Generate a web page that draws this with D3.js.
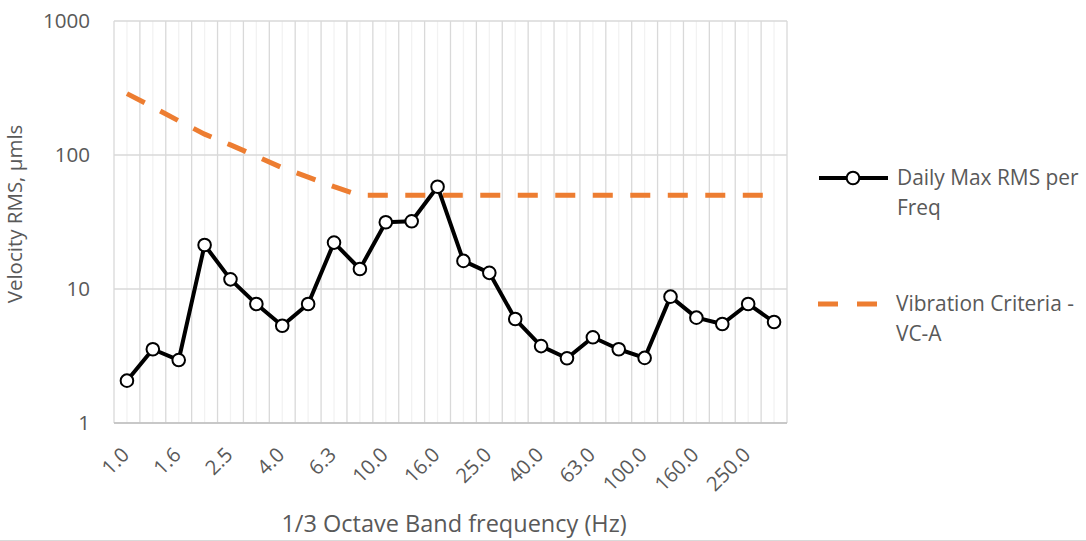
<!DOCTYPE html>
<html>
<head>
<meta charset="utf-8">
<script src="https://cdn.jsdelivr.net/npm/d3@7"></script>
<style>
  html, body { margin: 0; padding: 0; background: #fff; }
  svg { display: block; }
  text { font-family: "Open Sans", "Noto Sans", sans-serif; fill: #595959; }
</style>
</head>
<body>
<svg id="chart" width="1086" height="541"></svg>
<script>
const categories = ["1.0","1.25","1.6","2.0","2.5","3.15","4.0","5.0","6.3","8.0","10.0","12.5","16.0","20.0","25.0","31.5","40.0","50.0","63.0","80.0","100.0","125.0","160.0","200.0","250.0","315.0"];
const dailyMax = [2.07,3.55,2.95,21.3,11.8,7.73,5.32,7.73,22.2,14.1,31.5,32,58,16.2,13.2,5.97,3.75,3.04,4.36,3.55,3.06,8.77,6.11,5.48,7.73,5.67];
const vcA = [287,228,180,143,119,98,80.3,68.4,58.1,50,50,50,50,50,50,50,50,50,50,50,50,50,50,50,50,50];
const yTicks = [1,10,100,1000];
const seriesNames = ["Daily Max RMS per Freq", "Vibration Criteria - VC-A"];
const xTitle = "1/3 Octave Band frequency (Hz)";
const yTitle = "Velocity RMS, µmls";

const svg = d3.select("#chart");
const L = 114, R = 787, T = 21, B = 423;

const x = d3.scaleBand().domain(categories).range([L, R]).paddingInner(0).paddingOuter(0);
const xc = c => x(c) + x.bandwidth() / 2;
const y = d3.scaleLog().domain([1, 1000]).range([B, T]);

// minor vertical gridlines (category centers)
svg.append("g").selectAll("line").data(categories).join("line")
  .attr("x1", d => xc(d)).attr("x2", d => xc(d))
  .attr("y1", T).attr("y2", B)
  .attr("stroke", "#F2F2F2").attr("stroke-width", 1.3);

// major vertical gridlines (category boundaries)
const bounds = categories.map(c => x(c)).concat([x(categories[categories.length-1]) + x.bandwidth()]);
svg.append("g").selectAll("line").data(bounds).join("line")
  .attr("x1", d => d).attr("x2", d => d)
  .attr("y1", T).attr("y2", B)
  .attr("stroke", "#D9D9D9").attr("stroke-width", 1.3);

// horizontal gridlines
svg.append("g").selectAll("line").data(yTicks).join("line")
  .attr("x1", L).attr("x2", R)
  .attr("y1", d => y(d)).attr("y2", d => y(d))
  .attr("stroke", "#D9D9D9").attr("stroke-width", 1.3);

// bottom axis line
svg.append("line").attr("x1", L).attr("x2", R).attr("y1", B).attr("y2", B)
  .attr("stroke", "#BFBFBF").attr("stroke-width", 1.3);

// y tick labels
svg.append("g").selectAll("text").data(yTicks).join("text")
  .attr("x", 90).attr("y", d => y(d)).attr("dy", "0.35em")
  .attr("text-anchor", "end").style("font-size", "20.6px")
  .text(d => d3.format("d")(d));

// x tick labels (every other category)
svg.append("g").selectAll("text").data(categories.filter((d, i) => i % 2 === 0)).join("text")
  .attr("transform", d => `translate(${xc(d) + 3.5},456) rotate(-45)`)
  .attr("text-anchor", "end").style("font-size", "20.3px")
  .text(d => d3.format(".1f")(+d));

// VC-A dashed line
const line = d3.line().x((d, i) => xc(categories[i])).y(d => y(d));
svg.append("path").datum(vcA)
  .attr("d", line).attr("fill", "none")
  .attr("stroke", "#ED7D31").attr("stroke-width", 5)
  .attr("stroke-dasharray", "20,17.5");

// Daily Max line
svg.append("path").datum(dailyMax)
  .attr("d", line).attr("fill", "none")
  .attr("stroke", "#000").attr("stroke-width", 4).attr("stroke-linejoin", "round");

svg.append("g").selectAll("circle").data(dailyMax).join("circle")
  .attr("cx", (d, i) => xc(categories[i])).attr("cy", d => y(d))
  .attr("r", 6.3).attr("fill", "#fff").attr("stroke", "#000").attr("stroke-width", 2);

// axis titles
svg.append("text").attr("x", 454).attr("y", 532)
  .attr("text-anchor", "middle").style("font-size", "23.5px").text(xTitle);
svg.append("text").attr("transform", `translate(22,214) rotate(-90)`)
  .attr("text-anchor", "middle").style("font-size", "20.5px").text(yTitle);

// legend
const lg = svg.append("g");
lg.append("line").attr("x1", 819).attr("x2", 888).attr("y1", 178).attr("y2", 178)
  .attr("stroke", "#000").attr("stroke-width", 4);
lg.append("circle").attr("cx", 853).attr("cy", 178).attr("r", 6.3)
  .attr("fill", "#fff").attr("stroke", "#000").attr("stroke-width", 2);
const t1 = lg.append("text").attr("x", 897).attr("y", 185).style("font-size", "20.9px");
t1.append("tspan").attr("x", 897).text("Daily Max RMS per");
t1.append("tspan").attr("x", 897).attr("dy", 30).text("Freq");

lg.append("line").attr("x1", 818).attr("x2", 877).attr("y1", 304).attr("y2", 304)
  .attr("stroke", "#ED7D31").attr("stroke-width", 5).attr("stroke-dasharray", "20,19");
const t2 = lg.append("text").attr("x", 896).attr("y", 311).style("font-size", "20.9px");
t2.append("tspan").attr("x", 896).text("Vibration Criteria -");
t2.append("tspan").attr("x", 896).attr("dy", 30).text("VC-A");

// bottom border
svg.append("line").attr("x1", 0).attr("x2", 1086).attr("y1", 540.5).attr("y2", 540.5)
  .attr("stroke", "#D9D9D9").attr("stroke-width", 1);
</script>
</body>
</html>
